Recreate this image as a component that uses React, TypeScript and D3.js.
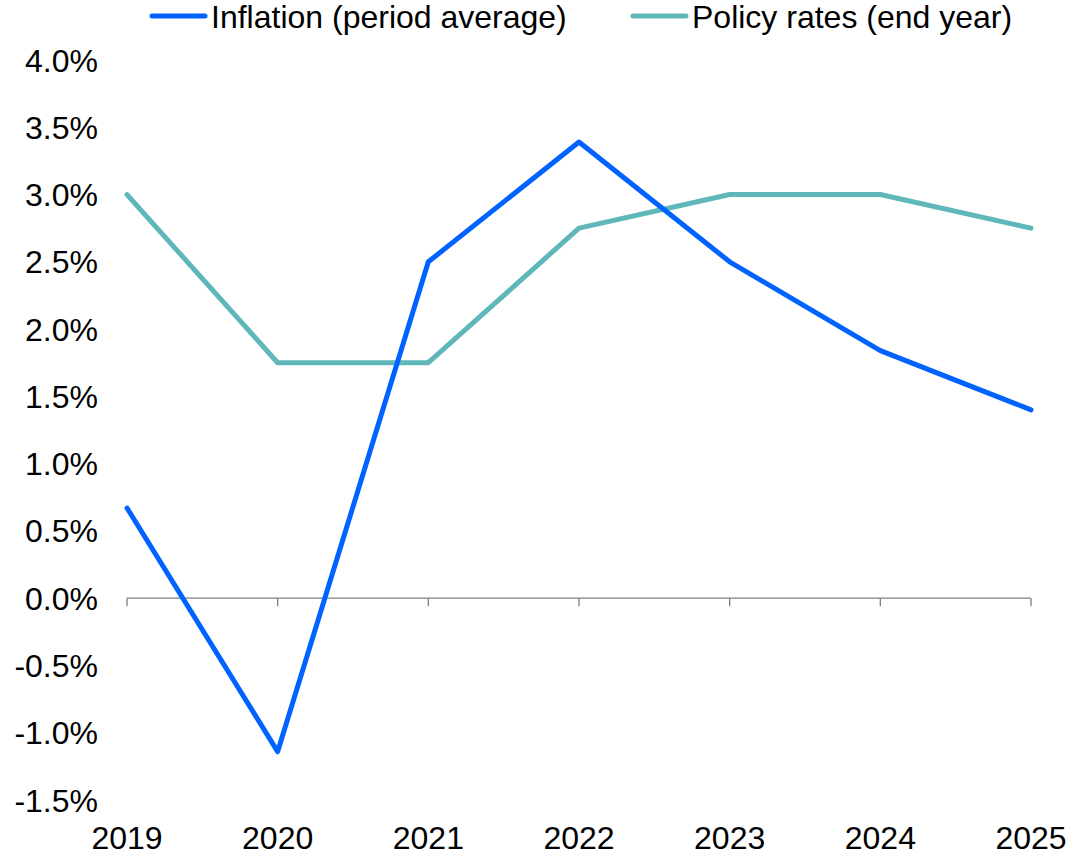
import React from "react";
import * as d3 from "d3";

const years = [2019, 2020, 2021, 2022, 2023, 2024, 2025];
const inflation = [0.67, -1.14, 2.5, 3.39, 2.5, 1.84, 1.4];
const policyRates = [3.0, 1.75, 1.75, 2.75, 3.0, 3.0, 2.75];
const yTicks = [-1.5, -1.0, -0.5, 0.0, 0.5, 1.0, 1.5, 2.0, 2.5, 3.0, 3.5, 4.0];
const seriesNames = ["Inflation (period average)", "Policy rates (end year)"];

const W = 1068;
const H = 857;
const FONT = "Liberation Sans, Arial, sans-serif";
const BLUE = "#0062FF";
const TEAL = "#5FB7BA";
const FS = 32;

export default function App() {
  const x = d3.scaleLinear().domain([2019, 2025]).range([127, 1031]);
  const y = d3.scaleLinear().domain([-1.5, 4.0]).range([800, 60]);
  const line = d3
    .line<number>()
    .x((_, i) => x(years[i]))
    .y((d) => y(d));

  return (
    <svg
      width={W}
      height={H}
      style={{ position: "absolute", left: 0, top: 0, background: "#fff" }}
      fontFamily={FONT}
    >
      {yTicks.map((t) => (
        <text
          key={t}
          x={98}
          y={y(t)}
          dy="0.36em"
          textAnchor="end"
          fontSize={FS}
          fill="#000"
        >
          {t.toFixed(1) + "%"}
        </text>
      ))}
      <line x1={x(2019)} x2={x(2025)} y1={y(0)} y2={y(0)} stroke="#7f7f7f" strokeWidth={1.3} />
      {years.map((yr) => (
        <line key={yr} x1={x(yr)} x2={x(yr)} y1={y(0)} y2={y(0) + 8} stroke="#7f7f7f" strokeWidth={1.3} />
      ))}
      {years.map((yr) => (
        <text key={yr} x={x(yr)} y={849} textAnchor="middle" fontSize={FS} fill="#000">
          {yr}
        </text>
      ))}
      <path d={line(policyRates) || ""} fill="none" stroke={TEAL} strokeWidth={5} strokeLinejoin="round" strokeLinecap="round" />
      <path d={line(inflation) || ""} fill="none" stroke={BLUE} strokeWidth={5} strokeLinejoin="round" strokeLinecap="round" />
      <line x1={152} x2={205} y1={16} y2={16} stroke={BLUE} strokeWidth={5} strokeLinecap="round" />
      <text x={211} y={28} fontSize={FS} fill="#000">{seriesNames[0]}</text>
      <line x1={633} x2={686} y1={16} y2={16} stroke={TEAL} strokeWidth={5} strokeLinecap="round" />
      <text x={692} y={28} fontSize={FS} fill="#000">{seriesNames[1]}</text>
    </svg>
  );
}
